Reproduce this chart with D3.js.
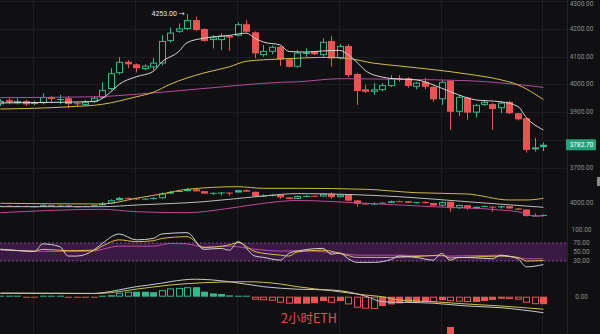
<!DOCTYPE html>
<html><head><meta charset="utf-8">
<script src="https://cdn.jsdelivr.net/npm/d3@7"></script>
<style>
html,body{margin:0;padding:0;background:#101012;}
svg{display:block;}
</style></head><body>
<svg id="chart" width="600" height="334"></svg>
<script>
// 2h ETH candles
const open  = [3928,3943,3932,3940,3929,3932,3954,3945,3950,3932,3926,3937,3952,3983,4040,4081,4072,4055,4061,4075,4156,4189,4199,4231,4199,4159,4159,4174,4175,4216,4187,4105,4117,4135,4090,4063,4109,4117,4105,4156,4093,4138,4037,3982,3973,3979,3994,4022,4022,3991,4009,3991,3946,4013,3901,3952,3898,3926,3929,3914,3937,3896,3878,3766,3774];
const high  = [3947,3950,3950,3945,3940,3968,3958,3962,3958,3936,3943,3958,4007,4058,4097,4087,4075,4072,4094,4177,4204,4219,4253,4243,4201,4177,4183,4176,4223,4231,4190,4141,4140,4138,4093,4123,4129,4120,4165,4174,4145,4145,4040,3998,4004,4004,4033,4033,4025,4009,4024,3994,4015,4015,3962,3955,3930,3944,3932,3940,3940,3897,3880,3807,3791];
const low   = [3922,3928,3928,3922,3925,3928,3932,3928,3914,3922,3922,3933,3948,3978,4035,4058,4043,4050,4051,4068,4150,4185,4195,4192,4153,4129,4123,4120,4172,4186,4094,4099,4108,4066,4060,4060,4099,4105,4099,4063,4090,4025,3926,3968,3962,3975,3990,4009,3988,3982,3982,3937,3926,3836,3886,3872,3881,3922,3836,3896,3893,3870,3754,3758,3760];
const close = [3940,3935,3940,3928,3934,3954,3947,3947,3929,3928,3937,3952,3980,4040,4081,4072,4058,4067,4078,4156,4186,4201,4231,4195,4156,4169,4175,4168,4216,4189,4111,4120,4135,4090,4063,4114,4114,4108,4153,4093,4138,4033,3976,3973,3982,3997,4022,4016,3994,4006,3991,3946,4009,3901,3955,3898,3926,3937,3911,3934,3896,3874,3764,3773,3782.7];

// moving averages on the price panel, [candle index, price]
const maFast = [[0,3933],[6,3935],[11,3938],[13,3972],[14,4000],[16,4027],[18,4046],[19,4080],[21,4117],[22,4150],[24,4166],[27,4176],[29,4184],[30,4165],[31,4152],[33,4141],[34,4118],[36,4116],[38,4120],[40,4122],[41,4106],[42,4080],[43,4050],[45,4026],[46,4021],[49,4016],[52,3986],[54,3962],[56,3944],[59,3937],[61,3920],[62,3880],[64,3836]];
const maMid  = [[0,3911],[8,3919],[12,3928],[16,3955],[18,3971],[20,4000],[24,4041],[27,4063],[29,4083],[33,4091],[39,4097],[41,4093],[44,4076],[47,4066],[55,4037],[59,4016],[61,3998],[62,3983],[63,3965],[64,3945]];
const maSlow = [[0,3952],[11,3955],[16,3964],[24,3985],[33,4007],[35,4009],[40,4020],[47,4018],[55,4013],[59,4005],[64,3989]];

// Bollinger bands on the second panel
const bollUp  = [[0,3986],[12,3974],[16,4073],[19,4149],[22,4231],[28,4276],[31,4248],[35,4248],[43,4231],[49,4171],[55,4149],[60,4044],[62,4044],[64,4073]];
const bollMid = [[0,3927],[12,3927],[16,3956],[24,4014],[31,4114],[35,4155],[47,4101],[55,4014],[64,3916]];
const bollLow = [[0,3822],[12,3881],[16,3839],[22,3822],[27,3899],[31,3986],[35,4035],[43,3986],[51,3927],[59,3869],[61,3839],[63,3764],[64,3764]];

// RSI 6 / 12 / 24
const rsi6  = [[0,56],[3,52],[4,51],[5,68],[7,62],[8,41],[9,41],[11,54],[12,69],[14,90],[16,77],[18,80],[19,90],[22,93],[24,56],[26,58],[27,54],[28,73],[30,41],[31,38],[33,32],[34,47],[35,52],[38,58],[39,45],[40,48],[41,35],[42,27],[44,27],[46,33],[47,41],[49,38],[51,32],[52,47],[53,32],[54,38],[56,37],[58,35],[59,43],[60,40],[61,35],[62,17],[64,22]];
const rsi12 = [[0,56],[4,52],[5,56],[8,53],[11,54],[12,63],[14,77],[16,73],[18,75],[19,80],[22,84],[24,60],[27,66],[28,71],[30,51],[33,43],[34,41],[35,50],[38,54],[41,42],[42,38],[46,38],[50,41],[52,43],[53,37],[56,39],[59,41],[61,38],[62,30],[64,31]];
const rsi24 = [[0,54],[8,51],[11,52],[12,56],[14,63],[18,63],[20,69],[22,68],[24,61],[27,63],[30,56],[33,52],[35,53],[41,45],[42,43],[47,43],[53,41],[59,43],[62,35],[64,35]];

// MACD
const macdHist = [2,2,2,-2,-2,2,2,2,-2,-2,-2,-2,2,3,8,10,10,10,9,13,16.6,17.6,19,19,10,6.6,5.4,2.6,2,2,-6,-7,-8,-12,-14,-14,-14,-13,-8.6,-12,-8.6,-15.4,-22,-24,-24.5,-18.6,-15.4,-13.4,-12,-12,-10.6,-11,-7,-9,-10,-10.6,-10.6,-8.6,-6.6,-4,-4.6,-6,-12,-15,-15];
const macdDif = [[0,7],[11,6.5],[12,8],[16,20],[19,27],[20,30],[23,35],[27,30],[31,20],[35,15],[39,13.4],[43,1.4],[45,-10],[51,-13],[55,-18.6],[59,-22],[64,-32]];
const macdDea = [[0,7],[11,6.5],[12,6.8],[16,15],[20,23.4],[24,28],[29,30],[33,25.4],[35,20],[39,12],[43,3.4],[45,0],[47,-6.6],[51,-10],[55,-14.6],[59,-18.6],[64,-25]];

// volume (only the tallest bar reaches into view)
const volume = [[53, 5200]];

const priceTicks = [4300, 4200, 4100, 4000, 3900, 3700];
const bollTicks = [4000];
const rsiTicks = [100, 70, 50, 30];
const macdTicks = [0];
const title = "2小时ETH";

const W = 600, H = 334, BG = "#101012";
const GREEN = "#33b98a", RED = "#ea5353";
const AXIS_X = 567;

const svg = d3.select("#chart");
svg.append("rect").attr("width", W).attr("height", H).attr("fill", BG);

const n = close.length;
const x = d3.scaleLinear().domain([0, n - 1]).range([0.4, 543.4]);
const yMain = d3.scaleLinear().domain([3700, 4300]).range([167.7, 0.9]);
const yBoll = d3.scaleLinear().domain([3700, 4300]).range([219.66, 185.34]);
const yRsi = d3.scaleLinear().domain([0, 100]).range([274.5, 229.5]);
const yMacd = d3.scaleLinear().domain([-40, 40]).range([316.7, 276.7]);
const yVol = d3.scaleLinear().domain([0, 6000]).range([372, 320]);

// grid
const grid = svg.append("g").attr("stroke", "#1d1e21").attr("stroke-width", 1);
grid.selectAll("line.v").data(d3.range(4, n, 12)).join("line")
  .attr("x1", d => Math.round(x(d)) - 0.5).attr("x2", d => Math.round(x(d)) - 0.5)
  .attr("y1", 0).attr("y2", H);
grid.selectAll("line.h").data(priceTicks.concat([3800])).join("line")
  .attr("x1", 0).attr("x2", AXIS_X)
  .attr("y1", d => Math.round(yMain(d)) + 0.5).attr("y2", d => Math.round(yMain(d)) + 0.5);
svg.append("line").attr("x1", AXIS_X + 0.5).attr("x2", AXIS_X + 0.5).attr("y1", 0).attr("y2", H)
  .attr("stroke", "#222327");

// RSI band
svg.append("rect").attr("x", 0).attr("width", AXIS_X)
  .attr("y", yRsi(70)).attr("height", yRsi(30) - yRsi(70)).attr("fill", "#3a1a43");
svg.selectAll("line.rsiLvl").data([70, 30]).join("line")
  .attr("x1", 0).attr("x2", AXIS_X)
  .attr("y1", d => yRsi(d)).attr("y2", d => yRsi(d))
  .attr("stroke", "#7a4a88").attr("stroke-dasharray", "2,2");

function candles(g, yS) {
  const idx = d3.range(n);
  g.selectAll("line.w").data(idx).join("line")
    .attr("x1", i => Math.round(x(i)) + 0.5).attr("x2", i => Math.round(x(i)) + 0.5)
    .attr("y1", i => yS(high[i])).attr("y2", i => yS(low[i]))
    .attr("stroke", i => close[i] >= open[i] ? GREEN : RED).attr("stroke-width", 1);
  g.selectAll("rect.b").data(idx).join("rect")
    .each(function(i) {
      const up = close[i] >= open[i];
      const a = yS(open[i]), b = yS(close[i]);
      const top = Math.min(a, b), h = Math.max(Math.abs(a - b), 1);
      const cx = Math.round(x(i));
      const s = d3.select(this);
      if (up && h > 2.5) {
        s.attr("x", cx - 2.5).attr("y", top + 0.5).attr("width", 6).attr("height", h - 1)
          .attr("fill", BG).attr("stroke", GREEN).attr("stroke-width", 1);
      } else {
        s.attr("x", cx - 3).attr("y", top).attr("width", 7).attr("height", h)
          .attr("fill", up ? GREEN : RED);
      }
    });
}

const line = (yS) => d3.line().x(d => x(d[0])).y(d => yS(d[1])).curve(d3.curveMonotoneX);
function path(data, yS, color) {
  svg.append("path").datum(data).attr("d", line(yS)).attr("fill", "none")
    .attr("stroke", color).attr("stroke-width", 1);
}

// main price panel
candles(svg.append("g"), yMain);
path(maSlow, yMain, "#b9479f");
path(maMid, yMain, "#d3bd45");
path(maFast, yMain, "#d6d6d6");

// highest high marker
const hiIdx = d3.maxIndex(high);
svg.append("text").attr("x", x(hiIdx) - 2.5).attr("y", yMain(high[hiIdx]))
  .attr("text-anchor", "end").attr("dominant-baseline", "middle")
  .attr("font-family", "Roboto, 'DejaVu Sans', sans-serif").attr("font-size", 7)
  .attr("fill", "#e8e8e8").text(high[hiIdx].toFixed(2) + " →");

// Bollinger panel
candles(svg.append("g"), yBoll);
path(bollLow, yBoll, "#c0479b");
path(bollMid, yBoll, "#bdbdbd");
path(bollUp, yBoll, "#cdb846");

// RSI panel
path(rsi24, yRsi, "#c04aa8");
path(rsi12, yRsi, "#d8c040");
path(rsi6, yRsi, "#d0d0d0");

// MACD histogram: hollow while the bar grows, solid while it shrinks
svg.append("g").selectAll("rect").data(d3.range(n)).join("rect")
  .each(function(i) {
    const v = macdHist[i];
    const grow = i > 0 && Math.abs(v) > Math.abs(macdHist[i - 1]);
    const col = v >= 0 ? GREEN : RED;
    const y0 = yMacd(0), y1 = yMacd(v);
    const top = Math.min(y0, y1), h = Math.max(Math.abs(y1 - y0), 1);
    const cx = Math.round(x(i));
    const s = d3.select(this);
    if (grow && h > 2) {
      s.attr("x", cx - 2.5).attr("y", top + 0.5).attr("width", 6).attr("height", h - 1)
        .attr("fill", "none").attr("stroke", col);
    } else {
      s.attr("x", cx - 3).attr("y", top).attr("width", 7).attr("height", h).attr("fill", col);
    }
  });
path(macdDea, yMacd, "#cfc04a");
path(macdDif, yMacd, "#c8c8c8");

// volume bars
svg.append("g").selectAll("rect").data(volume).join("rect")
  .attr("x", d => Math.round(x(d[0])) - 3).attr("width", 7)
  .attr("y", d => yVol(d[1])).attr("height", d => yVol(0) - yVol(d[1]))
  .attr("fill", d => close[d[0]] >= open[d[0]] ? GREEN : RED);

// right-hand axes
function axis(yS, ticks) {
  const g = svg.append("g").attr("transform", `translate(${AXIS_X + 14.5},0)`)
    .call(d3.axisRight(yS).tickValues(ticks).tickFormat(d3.format(".2f")).tickSize(0));
  g.select(".domain").remove();
  // keep the topmost label inside the frame
  g.selectAll(".tick").attr("transform", d => `translate(0,${Math.max(yS(d), 4)})`);
  g.selectAll("text").attr("x", 0).attr("dy", "0.33em").attr("text-anchor", "middle")
    .attr("fill", "#8e8e8e").attr("font-size", 6.5)
    .attr("font-family", "Roboto, 'DejaVu Sans', sans-serif");
}
axis(yMain, priceTicks);
axis(yBoll, bollTicks);
axis(yRsi, rsiTicks);
axis(yMacd, macdTicks);

// last price tag
const last = close[n - 1];
svg.append("rect").attr("x", AXIS_X - 1).attr("y", yMain(last) - 5.5).attr("width", 30).attr("height", 11)
  .attr("rx", 1).attr("fill", "#26a17b");
svg.append("text").attr("x", AXIS_X + 14.5).attr("y", yMain(last)).attr("dy", "0.35em")
  .attr("text-anchor", "middle").attr("fill", "#ffffff").attr("font-size", 6.5)
  .attr("font-family", "Roboto, 'DejaVu Sans', sans-serif").text(last.toFixed(2));

// scroll handle
svg.append("rect").attr("x", 597).attr("y", 177).attr("width", 3).attr("height", 9).attr("fill", "#8a8a8a");

// caption
svg.append("text").attr("x", 281).attr("y", 323)
  .attr("font-family", "'Noto Sans CJK SC', 'Noto Sans', sans-serif").attr("font-size", 12.5)
  .attr("fill", "#e5504a").text(title);
</script>
</body></html>
